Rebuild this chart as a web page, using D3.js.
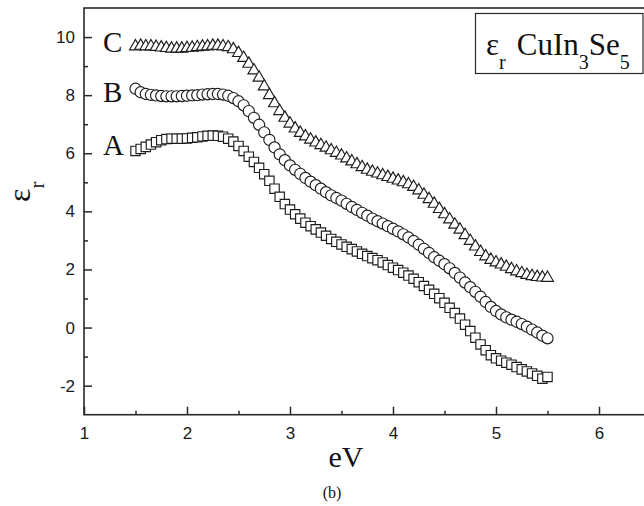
<!DOCTYPE html>
<html>
<head>
<meta charset="utf-8">
<script src="https://cdn.jsdelivr.net/npm/d3@7"></script>
<style>
  html, body { margin: 0; padding: 0; background: #ffffff; }
  svg { display: block; }
</style>
</head>
<body>
<div id="chart"></div>
<script>
// ---- data ----
const energy = [
  1.50,1.55,1.60,1.65,1.70,1.75,1.80,1.85,1.90,1.95,
  2.00,2.05,2.10,2.15,2.20,2.25,2.30,2.35,2.40,2.45,
  2.50,2.55,2.60,2.65,2.70,2.75,2.80,2.85,2.90,2.95,
  3.00,3.05,3.10,3.15,3.20,3.25,3.30,3.35,3.40,3.45,
  3.50,3.55,3.60,3.65,3.70,3.75,3.80,3.85,3.90,3.95,
  4.00,4.05,4.10,4.15,4.20,4.25,4.30,4.35,4.40,4.45,
  4.50,4.55,4.60,4.65,4.70,4.75,4.80,4.85,4.90,4.95,
  5.00,5.05,5.10,5.15,5.20,5.25,5.30,5.35,5.40,5.45,5.50
];
const seriesA = [
  6.08,6.15,6.22,6.30,6.38,6.45,6.49,6.50,6.50,6.50,
  6.51,6.53,6.55,6.58,6.60,6.61,6.60,6.57,6.50,6.40,
  6.25,6.08,5.88,5.70,5.50,5.28,5.05,4.78,4.50,4.25,
  4.06,3.90,3.75,3.61,3.49,3.38,3.27,3.16,3.05,2.95,
  2.86,2.78,2.70,2.62,2.54,2.46,2.39,2.32,2.24,2.15,
  2.06,1.98,1.89,1.79,1.68,1.56,1.43,1.30,1.16,1.01,
  0.85,0.68,0.50,0.31,0.10,-0.12,-0.35,-0.58,-0.78,-0.95,
  -1.06,-1.14,-1.21,-1.28,-1.36,-1.44,-1.51,-1.58,-1.66,-1.76,-1.70
];
const seriesB = [
  8.22,8.10,8.04,8.01,7.99,7.97,7.96,7.96,7.96,7.97,
  7.98,7.99,8.00,8.02,8.03,8.04,8.04,8.02,7.98,7.90,
  7.79,7.65,7.45,7.22,6.98,6.72,6.46,6.20,5.96,5.76,
  5.58,5.43,5.29,5.15,5.02,4.90,4.78,4.66,4.55,4.46,
  4.37,4.26,4.15,4.05,3.95,3.85,3.75,3.66,3.58,3.49,
  3.40,3.31,3.21,3.10,2.98,2.85,2.71,2.57,2.42,2.30,
  2.18,2.04,1.88,1.72,1.55,1.39,1.23,1.06,0.88,0.71,
  0.57,0.45,0.35,0.27,0.20,0.12,0.03,-0.07,-0.17,-0.28,-0.37
];
const seriesC = [
  9.68,9.70,9.68,9.68,9.66,9.64,9.62,9.60,9.60,9.60,
  9.62,9.63,9.65,9.67,9.68,9.70,9.70,9.68,9.65,9.58,
  9.45,9.28,9.08,8.85,8.60,8.30,8.00,7.72,7.45,7.22,
  7.02,6.85,6.70,6.58,6.47,6.37,6.28,6.19,6.10,6.01,
  5.92,5.82,5.72,5.62,5.52,5.43,5.36,5.30,5.24,5.18,
  5.12,5.06,5.00,4.93,4.84,4.72,4.57,4.42,4.26,4.08,
  3.90,3.72,3.54,3.37,3.18,2.98,2.79,2.60,2.45,2.33,
  2.24,2.17,2.09,2.01,1.93,1.87,1.81,1.77,1.74,1.72,1.71
];
const seriesNames = ["A", "B", "C"];
const xMajorTicks = [1, 2, 3, 4, 5, 6];
const xMinorTicks = [1.5, 2.5, 3.5, 4.5, 5.5];
const yMajorTicks = [-2, 0, 2, 4, 6, 8, 10];
const yMinorTicks = [-1, 1, 3, 5, 7, 9];
const xTitle = "eV";
const caption = "(b)";

// ---- layout ----
const W = 644, H = 506;
const svg = d3.select("#chart").append("svg")
  .attr("width", W).attr("height", H)
  .attr("viewBox", `0 0 ${W} ${H}`);

const x = d3.scaleLinear().domain([1, 6.5]).range([84, 650.5]);
const y = d3.scaleLinear().domain([-3, 11]).range([414.7, 8]);

const axisColor = "#2a2a2a";
const sansFont = "'Liberation Sans', Arial, Helvetica, sans-serif";
const serifFont = "'Liberation Serif', 'Times New Roman', Times, serif";

// frame
svg.append("rect")
  .attr("x", x(1)).attr("y", y(11))
  .attr("width", x(6.5) - x(1)).attr("height", y(-3) - y(11))
  .attr("fill", "none").attr("stroke", axisColor).attr("stroke-width", 1.6);

const plainFormat = d => String(d);

// y axis (major + minor, inward ticks)
const gy = svg.append("g").attr("transform", `translate(${x(1)},0)`)
  .call(d3.axisLeft(y).tickValues(yMajorTicks).tickSize(-8).tickPadding(9).tickFormat(plainFormat));
const gyMinor = svg.append("g").attr("transform", `translate(${x(1)},0)`)
  .call(d3.axisLeft(y).tickValues(yMinorTicks).tickSize(-4).tickFormat(""));

// x axis
const gx = svg.append("g").attr("transform", `translate(0,${y(-3)})`)
  .call(d3.axisBottom(x).tickValues(xMajorTicks).tickSize(-8).tickPadding(12).tickFormat(plainFormat));
const gxMinor = svg.append("g").attr("transform", `translate(0,${y(-3)})`)
  .call(d3.axisBottom(x).tickValues(xMinorTicks).tickSize(-4).tickFormat(""));

[gy, gyMinor, gx, gxMinor].forEach(g => {
  g.select(".domain").remove();
  g.selectAll(".tick line").attr("stroke", axisColor).attr("stroke-width", 1.5);
  g.selectAll(".tick text")
    .attr("fill", "#1a1a1a")
    .style("font-family", sansFont)
    .style("font-size", "17px");
});

// ---- series markers ----
const markerStroke = "#1c1c1c";
const seriesData = [seriesA, seriesB, seriesC];
const symbols = [
  d3.symbol().type(d3.symbolSquare).size(88),
  d3.symbol().type(d3.symbolCircle).size(98),
  d3.symbol().type(d3.symbolTriangle).size(62)
];

seriesData.forEach((vals, si) => {
  const pts = energy.map((e, i) => ({ e, v: vals[i] }));
  svg.append("g")
    .selectAll("path")
    .data(pts)
    .join("path")
    .attr("transform", d => `translate(${x(d.e)},${y(d.v)})`)
    .attr("d", symbols[si]())
    .attr("fill", "#ffffff")
    .attr("stroke", markerStroke)
    .attr("stroke-width", 1.15);
});

// series labels A, B, C
const labelPos = [155, 101.5, 51.5];
seriesNames.forEach((n, i) => {
  svg.append("text")
    .attr("x", 103).attr("y", labelPos[i])
    .attr("fill", "#111")
    .style("font-family", serifFont)
    .style("font-size", "29px")
    .text(n);
});

// axis titles
svg.append("text")
  .attr("x", 346).attr("y", 467)
  .attr("text-anchor", "middle")
  .attr("fill", "#111")
  .style("font-family", serifFont)
  .style("font-size", "30px")
  .text(xTitle);

const yt = svg.append("text")
  .attr("transform", "translate(30,202) rotate(-90)")
  .attr("fill", "#111")
  .style("font-family", serifFont)
  .style("font-size", "32px");
yt.append("tspan").text("ε");
yt.append("tspan").attr("dy", 14).style("font-size", "21px").text("r");

svg.append("text")
  .attr("x", 332).attr("y", 498)
  .attr("text-anchor", "middle")
  .attr("fill", "#111")
  .style("font-family", serifFont)
  .style("font-size", "16px")
  .text(caption);

// legend box
svg.append("rect")
  .attr("x", 475.5).attr("y", 13.5)
  .attr("width", 167.5).attr("height", 60)
  .attr("fill", "#ffffff")
  .attr("stroke", axisColor).attr("stroke-width", 1.2);

const lt = svg.append("text")
  .attr("x", 486).attr("y", 55)
  .attr("fill", "#111")
  .style("font-family", serifFont)
  .style("font-size", "31px");
lt.append("tspan").text("ε");
lt.append("tspan").attr("dy", 14).style("font-size", "20px").text("r");
lt.append("tspan").attr("dy", -14).attr("dx", 11).text("CuIn");
lt.append("tspan").attr("dy", 14).style("font-size", "20px").text("3");
lt.append("tspan").attr("dy", -14).text("Se");
lt.append("tspan").attr("dy", 14).style("font-size", "20px").text("5");
</script>
</body>
</html>
